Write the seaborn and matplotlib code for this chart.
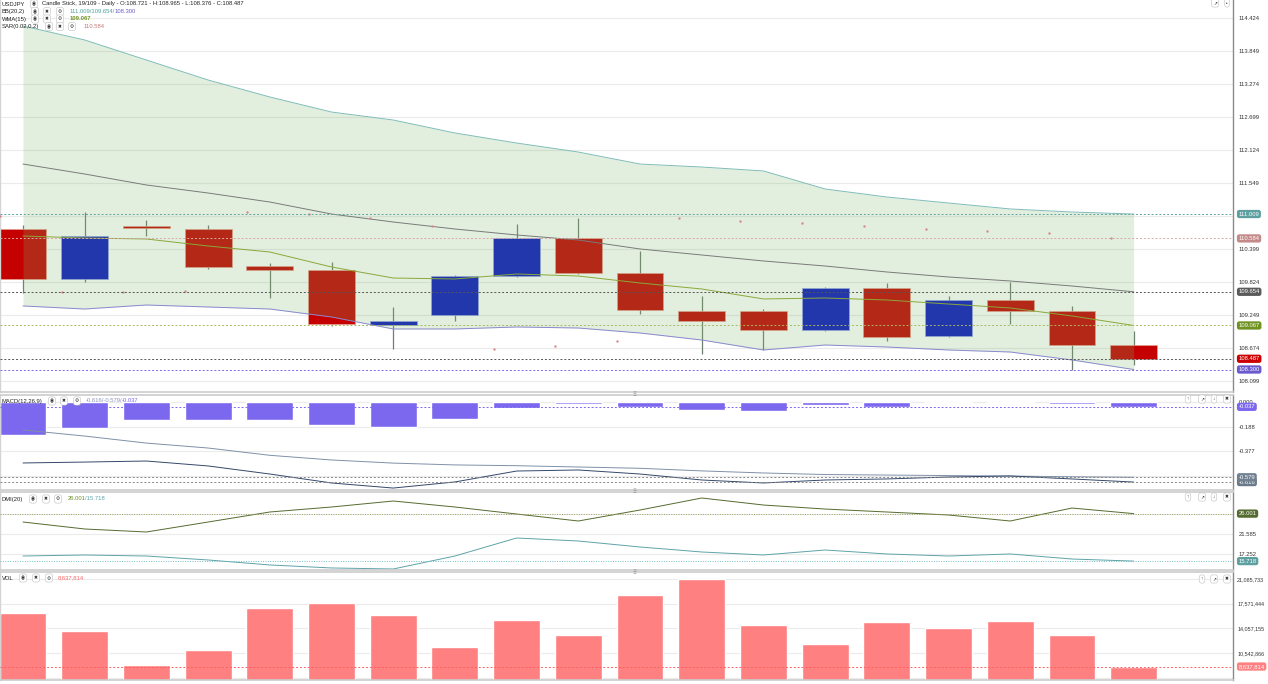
"""USDJPY daily candles with BB / WMA / SAR overlays, MACD, DMI and volume panels."""

import matplotlib

matplotlib.use("Agg")
import matplotlib.pyplot as plt
import matplotlib.transforms as mtransforms
import numpy as np
import seaborn as sns

W, H = 1268, 684

# ---- values -------------------------------------------------------------------
opens = [110.748, 109.877, 110.800, 110.748, 110.103, 110.034, 109.076, 109.250, 109.929, 110.591,
         109.982, 109.320, 109.320, 108.989, 109.720, 108.884, 109.511, 109.320, 108.721]
highs = [110.818, 111.044, 110.905, 110.818, 110.156, 110.173, 109.389, 109.947, 110.835, 110.940,
         110.365, 109.581, 109.354, 109.738, 109.807, 109.581, 109.825, 109.407, 108.965]
lows = [109.633, 109.825, 110.626, 110.051, 109.546, 109.058, 108.657, 109.145, 109.912, 109.964,
        109.267, 108.570, 108.640, 108.971, 108.797, 108.866, 109.093, 108.292, 108.376]
closes = [109.877, 110.626, 110.765, 110.086, 110.034, 109.093, 109.145, 109.929, 110.591, 109.982,
          109.337, 109.145, 108.989, 109.720, 108.866, 109.511, 109.320, 108.727, 108.487]

bb_upper = [114.285, 114.041, 113.692, 113.344, 113.048, 112.786, 112.647, 112.421, 112.246, 112.089,
            111.880, 111.828, 111.759, 111.445, 111.305, 111.201, 111.097, 111.044, 111.009]
bb_mid = [111.880, 111.706, 111.515, 111.375, 111.218, 111.009, 110.870, 110.748, 110.644, 110.556,
          110.400, 110.295, 110.191, 110.103, 109.999, 109.912, 109.842, 109.755, 109.654]
bb_lower = [109.407, 109.354, 109.424, 109.389, 109.354, 109.215, 109.006, 109.006, 109.041, 109.023,
            108.936, 108.814, 108.640, 108.727, 108.692, 108.640, 108.605, 108.466, 108.300]
wma = [110.626, 110.591, 110.574, 110.452, 110.347, 110.086, 109.894, 109.877, 109.964, 109.929,
       109.807, 109.703, 109.529, 109.546, 109.511, 109.441, 109.372, 109.233, 109.067]
sar = [110.975, 109.650, 109.650, 109.668, 111.044, 111.009, 110.940, 110.800, 108.657, 108.710,
       108.797, 110.940, 110.887, 110.853, 110.800, 110.748, 110.713, 110.678, 110.584]

macd_line = [-0.469, -0.462, -0.454, -0.492, -0.554, -0.623, -0.662, -0.615, -0.531, -0.523,
             -0.554, -0.600, -0.623, -0.600, -0.592, -0.577, -0.569, -0.592, -0.616]
macd_signal = [-0.215, -0.262, -0.316, -0.354, -0.410, -0.446, -0.470, -0.484, -0.490, -0.500,
               -0.510, -0.530, -0.546, -0.558, -0.562, -0.566, -0.570, -0.575, -0.579]
macd_hist = [-0.254, -0.200, -0.138, -0.138, -0.138, -0.177, -0.192, -0.131, -0.046, -0.016,
             -0.040, -0.062, -0.072, -0.023, -0.040, -0.006, -0.006, -0.018, -0.037]

dmi_plus = [24.18, 22.67, 22.02, 24.18, 26.35, 27.43, 28.73, 27.43, 25.91, 24.40,
            26.78, 29.38, 27.86, 26.99, 26.35, 25.70, 24.40, 27.21, 26.001]
dmi_minus = [16.82, 17.04, 16.82, 15.96, 14.88, 14.23, 14.01, 16.82, 20.72, 20.07,
             18.77, 17.69, 17.04, 18.12, 17.26, 16.82, 17.26, 16.17, 15.718]

volume = [16.25e6, 13.69e6, 8.85e6, 10.98e6, 16.96e6, 17.67e6, 15.96e6, 11.41e6, 15.25e6, 13.12e6,
          18.81e6, 21.05e6, 14.54e6, 11.84e6, 14.97e6, 14.11e6, 15.11e6, 13.12e6, 8637814]

price_ticks = [108.099, 108.674, 109.249, 109.824, 110.399, 110.974, 111.549, 112.124, 112.699,
               113.274, 113.849, 114.424]
macd_ticks = [0.0, -0.1885, -0.377, -0.5655]
dmi_ticks = [17.252, 21.585, 25.918]
vol_ticks = [7028577, 10542866, 14057155, 17571444, 21085733]

idx = np.arange(len(closes))

# ---- style ----------------------------------------------------------------------
sns.set_theme(style="white")
plt.rcParams["font.family"] = ["Liberation Sans", "DejaVu Sans"]

RED, BLUE = "#c40000", "#0a14c0"
FS = 4.2
XLIM = (-0.373, 19.61)
BAR_W = 0.76

fig = plt.figure(figsize=(W / 100, H / 100), dpi=100)


def rect(top, bottom):
    return [0, 1 - bottom / H, 1233 / W, (bottom - top) / H]


ax = fig.add_axes(rect(0, 392))
ax_macd = fig.add_axes(rect(395, 490))
ax_dmi = fig.add_axes(rect(492, 570))
ax_vol = fig.add_axes(rect(572, 680))


def style_panel(a, ticks, labels, ylim, top_spine=True):
    a.set_xlim(*XLIM)
    a.set_ylim(*ylim)
    a.set_xticks([])
    a.set_xlabel("")
    a.set_ylabel("")
    a.yaxis.tick_right()
    a.set_yticks(ticks, labels)
    a.tick_params(axis="y", length=0, pad=4, labelsize=FS, labelcolor="#333")
    a.grid(axis="y", color="#ebebeb", lw=0.8)
    a.set_axisbelow(True)
    a.spines["right"].set_color("#8a8a8a")
    a.spines["right"].set_linewidth(1.0)
    a.spines["left"].set_color("#d4d4d4")
    a.spines["left"].set_linewidth(1.0)
    a.spines["bottom"].set_color("#cccccc")
    a.spines["bottom"].set_linewidth(1.2)
    a.spines["top"].set_visible(top_spine)
    a.spines["top"].set_color("#cccccc")
    a.spines["top"].set_linewidth(1.2)


def value_tag(a, y, text, bg, fg="white"):
    tr = mtransforms.blended_transform_factory(a.transAxes, a.transData)
    a.text(1.0045, y, text, transform=tr, fontsize=FS, color=fg, va="center", ha="left",
           clip_on=False, zorder=10,
           bbox=dict(boxstyle="round,pad=0.28,rounding_size=0.4", fc=bg, ec="none"))


def hline(a, y, color, ls=(0, (2, 2))):
    a.axhline(y, color=color, lw=0.7, ls=ls, zorder=6)


# ---- main price panel ---------------------------------------------------------------
colors = [RED if c < o else BLUE for o, c in zip(opens, closes)]
edges = ["#e8a090" if c < o else "#98a4e8" for o, c in zip(opens, closes)]
ax.vlines(idx, lows, highs, color="#6f7f70", lw=0.9, zorder=1)
ax.bar(idx, np.array(closes) - np.array(opens), bottom=opens, width=BAR_W,
       color=colors, edgecolor=edges, lw=0.5, zorder=2)
ax.fill_between(idx, bb_lower, bb_upper, color="#7fb86a", alpha=0.22, lw=0, zorder=3)
sns.lineplot(x=idx, y=bb_upper, ax=ax, color="#7fbcb8", lw=0.7, zorder=4, legend=False)
sns.lineplot(x=idx, y=bb_mid, ax=ax, color="#7a7a7a", lw=0.7, zorder=4, legend=False)
sns.lineplot(x=idx, y=bb_lower, ax=ax, color="#8a88d0", lw=0.7, zorder=4, legend=False)
sns.lineplot(x=idx, y=wma, ax=ax, color="#8aa83a", lw=0.7, zorder=4, legend=False)
sns.scatterplot(x=idx - 0.373, y=sar, ax=ax, color="#d48a8a", s=3, lw=0, zorder=5, legend=False)

price_labels = [f"{t:.3f}" if t != 110.974 else "" for t in price_ticks]
style_panel(ax, price_ticks, price_labels, (107.908, 114.738), top_spine=False)

hline(ax, bb_upper[-1], "#5fa3a3")
hline(ax, sar[-1], "#d8a8a8")
hline(ax, bb_mid[-1], "#555555")
hline(ax, wma[-1], "#a8b860")
hline(ax, closes[-1], "#555555")
hline(ax, bb_lower[-1], "#7b68ee")
value_tag(ax, bb_upper[-1], "111.009", "#5e9fa0")
value_tag(ax, sar[-1], "110.584", "#c48a8a")
value_tag(ax, bb_mid[-1], "109.654", "#5a5a5a")
value_tag(ax, wma[-1], "109.067", "#6f9220")
value_tag(ax, closes[-1], "108.487", "#cc0000")
value_tag(ax, bb_lower[-1], "108.300", "#6a5acd")

# ---- MACD panel -------------------------------------------------------------------
sns.barplot(x=idx, y=macd_hist, ax=ax_macd, color="#7b68ee", saturation=1,
            width=BAR_W, native_scale=True, zorder=2)
sns.lineplot(x=idx, y=macd_signal, ax=ax_macd, color="#8090a8", lw=0.7, zorder=3, legend=False)
sns.lineplot(x=idx, y=macd_line, ax=ax_macd, color="#34486a", lw=0.7, zorder=3, legend=False)
style_panel(ax_macd, macd_ticks, ["0.000", "-0.188", "-0.377", ""], (-0.677, 0.054))
hline(ax_macd, macd_hist[-1], "#7b68ee")
hline(ax_macd, macd_signal[-1], "#888888")
hline(ax_macd, macd_line[-1], "#888888")
value_tag(ax_macd, macd_hist[-1], "-0.037", "#7b68ee")
value_tag(ax_macd, macd_line[-1], "-0.616", "#6a7a8a")
value_tag(ax_macd, macd_signal[-1], "-0.579", "#708090")

# ---- DMI panel --------------------------------------------------------------------
sns.lineplot(x=idx, y=dmi_plus, ax=ax_dmi, color="#556b2f", lw=0.7, legend=False)
sns.lineplot(x=idx, y=dmi_minus, ax=ax_dmi, color="#5fa3a8", lw=0.7, legend=False)
style_panel(ax_dmi, dmi_ticks, ["17.252", "21.585", ""], (13.79, 30.68))
hline(ax_dmi, dmi_plus[-1], "#a0a060", ls=(0, (1, 1.5)))
hline(ax_dmi, dmi_minus[-1], "#70c0c8", ls=(0, (1, 1.5)))
value_tag(ax_dmi, dmi_plus[-1], "26.001", "#556b2f")
value_tag(ax_dmi, dmi_minus[-1], "15.718", "#5e9fa0")

# ---- volume panel -----------------------------------------------------------------
sns.barplot(x=idx, y=volume, ax=ax_vol, color="#ff8080", saturation=1,
            width=BAR_W, native_scale=True, zorder=2)
style_panel(ax_vol, vol_ticks, ["", "10,542,866", "14,057,155", "17,571,444", "21,085,733"],
            (6.72e6, 22.08e6))
ax_vol.tick_params(axis="y", pad=3, labelsize=3.9)
hline(ax_vol, volume[-1], "#ff6060")
value_tag(ax_vol, volume[-1], "8,637,814", "#ff8080")


# ---- header texts and little toolbar buttons ---------------------------------------
def ftext(x, y, s, color="#222222", **kw):
    fig.text(x / W, 1 - y / H, s, fontsize=FS, color=color, va="center", ha="left", **kw)


def icon(x, y, glyph):
    fig.text(x / W, 1 - y / H, glyph, fontsize=3.3, color="#333", ha="center", va="center",
             bbox=dict(boxstyle="round,pad=0.35,rounding_size=0.5", fc="white", ec="#c0c0c0", lw=0.4))


EYE, CROSS, GEAR = "\u25c9", "\u2716", "\u2699"

ftext(2, 4, "USDJPY")
icon(34, 4, EYE)
ftext(42, 4, "Candle Stick, 19/109 - Daily - O:108.721 - H:108.965 - L:108.376 - C:108.487")

ftext(2, 11.5, "BB(20,2)")
for gx, g in zip((35, 47, 60), (EYE, CROSS, GEAR)):
    icon(gx, 11.5, g)
ftext(70, 11.5, "111.009/109.654/", color="#4fa0a0")
ftext(115, 11.5, "108.300", color="#6a5acd")

ftext(2, 19, "WMA(15)")
for gx, g in zip((35, 47, 60), (EYE, CROSS, GEAR)):
    icon(gx, 19, g)
ftext(70, 19, "109.067", color="#6f9220", fontweight="bold")

ftext(2, 26.5, "SAR(0.02,0.2)")
for gx, g in zip((49, 60, 72), (EYE, CROSS, GEAR)):
    icon(gx, 26.5, g)
ftext(84, 26.5, "110.584", color="#c07878")

ftext(2, 401, "MACD(12,26,9)")
for gx, g in zip((52, 64, 77), (EYE, CROSS, GEAR)):
    icon(gx, 401, g)
ftext(86, 401, "-0.616/-0.579/", color="#8a94b8")
ftext(122, 401, "-0.037", color="#7b68ee")

ftext(2, 499, "DMI(20)")
for gx, g in zip((33, 46, 58), (EYE, CROSS, GEAR)):
    icon(gx, 499, g)
ftext(68, 499, "26.001", color="#6b8e23")
ftext(85, 499, "/15.718", color="#5fa3a8")

ftext(2, 578, "VOL")
for gx, g in zip((23, 36, 49), (EYE, CROSS, GEAR)):
    icon(gx, 578, g)
ftext(58, 578, "8,637,814", color="#ff6666")

icon(1215, 3, "\u2197")
icon(1227, 3, "\u2022")
for y in (399, 497):
    for gx, g in zip((1188, 1202, 1214, 1227), ("\u2191", "\u2197", "\u2193", CROSS)):
        icon(gx, y, g)
for gx, g in zip((1202, 1214, 1227), ("\u2191", "\u2197", CROSS)):
    icon(gx, 579, g)

for y in (395, 492, 573):
    fig.text(634 / W, 1 - y / H, "\u283f", fontsize=4, color="#777", ha="center", va="center")

fig.savefig("out.png", dpi=100)
plt.close(fig)
